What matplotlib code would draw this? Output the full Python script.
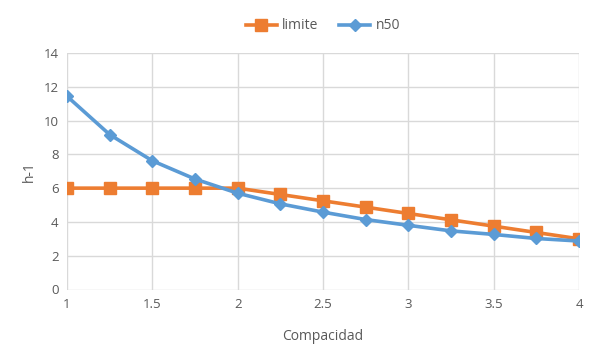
import matplotlib
matplotlib.use("Agg")
import matplotlib.pyplot as plt

x = [1, 1.25, 1.5, 1.75, 2, 2.25, 2.5, 2.75, 3, 3.25, 3.5, 3.75, 4]
limite = [6, 6, 6, 6, 6, 5.625, 5.25, 4.875, 4.5, 4.125, 3.75, 3.375, 3.0]
n50 = [11.44, 9.17, 7.62, 6.54, 5.7, 5.07, 4.58, 4.14, 3.8, 3.47, 3.26, 3.02, 2.87]
xticks = [1, 1.5, 2, 2.5, 3, 3.5, 4]
yticks = [0, 2, 4, 6, 8, 10, 12, 14]

plt.rcParams['font.family'] = ['Open Sans', 'DejaVu Sans']
fig = plt.figure(figsize=(6, 3.6), dpi=100)
ax = fig.add_axes([67/600, 1-289.5/360, (579-67)/600, (289.5-53)/360])

orange = '#ED7D31'
blue = '#5B9BD5'
ax.plot(x, limite, color=orange, lw=2.6, marker='s', ms=8, label='limite', zorder=3)
ax.plot(x, n50, color=blue, lw=2.6, marker='D', ms=6.5, label='n50', zorder=4)

ax.set_xlim(1, 4)
ax.set_ylim(0, 14)
ax.set_xticks(xticks)
ax.set_xticklabels([f'{t:g}' for t in xticks])
ax.set_yticks(yticks)
ax.grid(True, color='#d9d9d9', lw=1)
ax.set_axisbelow(True)
for s in ['top', 'right', 'left', 'bottom']:
    ax.spines[s].set_visible(False)
ax.tick_params(length=0, colors='#595959', labelsize=9.5, pad=6)
ax.set_xlabel('Compacidad', color='#595959', fontsize=10, labelpad=13)
ax.set_ylabel('h-1', color='#595959', fontsize=10, labelpad=5)

leg = ax.legend(loc='lower center', bbox_to_anchor=(0.5, 1.03), ncol=2, frameon=False,
                fontsize=10, handlelength=2.2, columnspacing=1.5, handletextpad=0.4)
for t in leg.get_texts():
    t.set_color('#595959')

fig.savefig('out.png', dpi=100)
